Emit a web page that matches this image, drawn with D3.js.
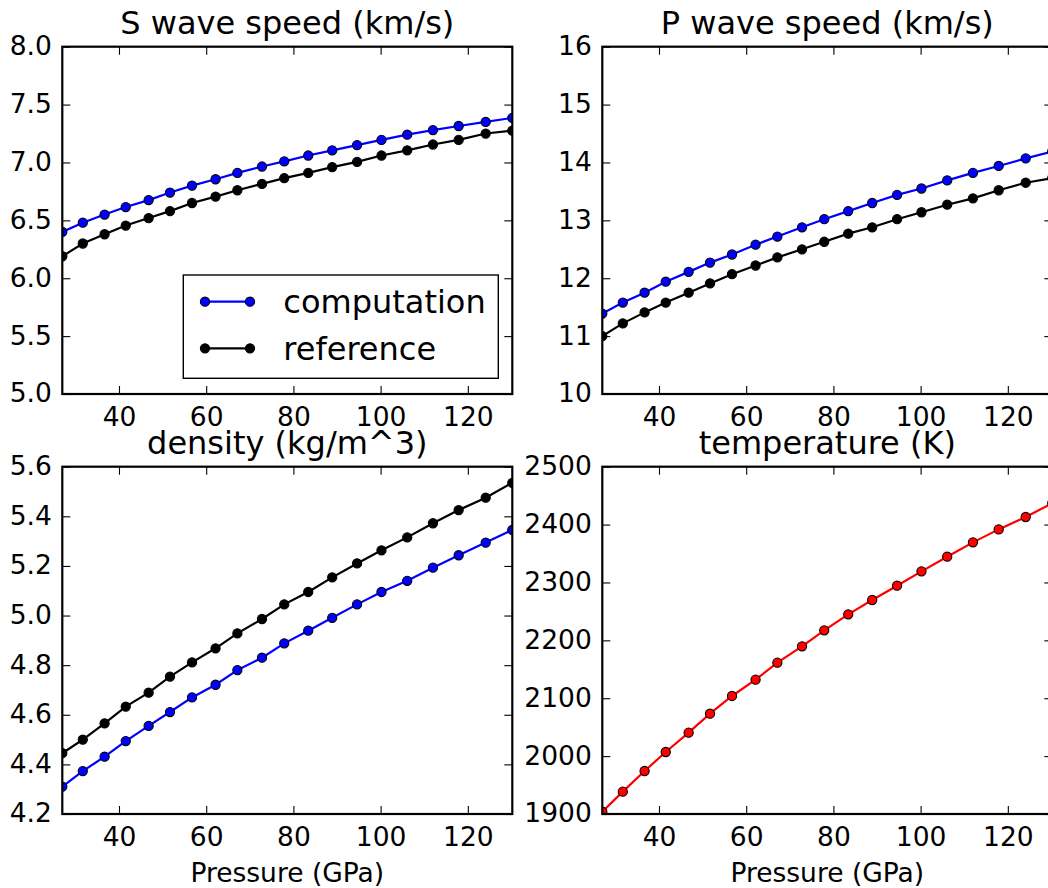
<!DOCTYPE html>
<html>
<head>
<meta charset="utf-8">
<script src="https://cdn.jsdelivr.net/npm/d3@7"></script>
<style>
  html, body { margin: 0; padding: 0; background: #fff; overflow: hidden; }
  svg { display: block; font-family: "DejaVu Sans", sans-serif; }
</style>
</head>
<body>
<svg id="chart" width="1048" height="888"></svg>
<script>
// Pressure samples along the profile (GPa)
const pressure = [27.0, 31.7, 36.7, 41.55, 46.8, 51.7, 56.75, 62.15, 67.15, 72.8,
                  77.9, 83.4, 88.9, 94.6, 100.2, 106.1, 112.0, 117.9, 124.1, 130.2];

// S wave speed (km/s)
const vsComputation = [6.40, 6.48, 6.55, 6.615, 6.675, 6.74, 6.80, 6.855, 6.91, 6.965,
                       7.01, 7.06, 7.105, 7.15, 7.195, 7.24, 7.28, 7.315, 7.35, 7.385];
const vsReference   = [6.19, 6.30, 6.38, 6.455, 6.52, 6.58, 6.65, 6.705, 6.76, 6.815,
                       6.865, 6.91, 6.96, 7.005, 7.06, 7.105, 7.155, 7.195, 7.25, 7.275];

// P wave speed (km/s)
const vpComputation = [11.39, 11.58, 11.75, 11.94, 12.11, 12.27, 12.41, 12.58, 12.72, 12.88,
                       13.02, 13.16, 13.30, 13.44, 13.55, 13.69, 13.82, 13.94, 14.07, 14.19];
const vpReference   = [11.00, 11.22, 11.41, 11.58, 11.75, 11.91, 12.07, 12.22, 12.36, 12.50,
                       12.63, 12.77, 12.88, 13.02, 13.14, 13.27, 13.38, 13.52, 13.65, 13.73];

// Density
const rhoComputation = [4.31, 4.373, 4.431, 4.494, 4.555, 4.611, 4.67, 4.721, 4.78, 4.83,
                        4.888, 4.939, 4.991, 5.045, 5.095, 5.14, 5.193, 5.243, 5.294, 5.345];
const rhoReference   = [4.445, 4.50, 4.565, 4.633, 4.689, 4.754, 4.811, 4.868, 4.928, 4.986,
                        5.045, 5.095, 5.154, 5.21, 5.263, 5.315, 5.372, 5.425, 5.475, 5.535];

// Temperature (K)
const temperature = [1904, 1938.6, 1974.3, 2007.1, 2040.5, 2073.3, 2103.9, 2132.1, 2161.5, 2189.7,
                     2217.3, 2244.9, 2269.7, 2294.4, 2319.2, 2344.5, 2369.3, 2391.7, 2413.1, 2437];

// Tick values
const xTicks   = [40, 60, 80, 100, 120];
const vsTicks  = [5.0, 5.5, 6.0, 6.5, 7.0, 7.5, 8.0];
const vpTicks  = [10, 11, 12, 13, 14, 15, 16];
const rhoTicks = [4.2, 4.4, 4.6, 4.8, 5.0, 5.2, 5.4, 5.6];
const tTicks   = [1900, 2000, 2100, 2200, 2300, 2400, 2500];

const titles = ["S wave speed (km/s)", "P wave speed (km/s)", "density (kg/m^3)", "temperature (K)"];
const xLabel = "Pressure (GPa)";
const legendLabels = ["computation", "reference"];

// Panel layout
const W = 450, H = 347.3;
const panels = [
  { left: 62.3,  top: 46.7,  title: titles[0], ticks: vsTicks,  fmt: d3.format(".1f"),
    series: [{ v: vsComputation, c: "#0000ff" }, { v: vsReference, c: "#000000" }], legend: true },
  { left: 602.3, top: 46.7,  title: titles[1], ticks: vpTicks,  fmt: d3.format("d"),
    series: [{ v: vpComputation, c: "#0000ff" }, { v: vpReference, c: "#000000" }] },
  { left: 62.3,  top: 466.7, title: titles[2], ticks: rhoTicks, fmt: d3.format(".1f"),
    series: [{ v: rhoComputation, c: "#0000ff" }, { v: rhoReference, c: "#000000" }], xlabel: true },
  { left: 602.3, top: 466.7, title: titles[3], ticks: tTicks,   fmt: d3.format("d"),
    series: [{ v: temperature, c: "#ff0000" }], xlabel: true }
];

const svg = d3.select("#chart");
const TICK = 8;

panels.forEach((p, i) => {
  const x = d3.scaleLinear().domain([d3.min(pressure), d3.max(pressure)]).range([0, W]);
  const y = d3.scaleLinear().domain([p.ticks[0], p.ticks[p.ticks.length - 1]]).range([H, 0]);
  const g = svg.append("g").attr("transform", `translate(${p.left},${p.top})`);

  const clipId = "clip" + i;
  g.append("clipPath").attr("id", clipId)
    .append("rect").attr("width", W).attr("height", H);

  const plot = g.append("g").attr("clip-path", `url(#${clipId})`);
  const line = d3.line().x((d, k) => x(pressure[k])).y(d => y(d));

  p.series.forEach(s => {
    plot.append("path").datum(s.v)
      .attr("d", line).attr("fill", "none")
      .attr("stroke", s.c).attr("stroke-width", 2.2);
    plot.selectAll(null).data(s.v).enter().append("circle")
      .attr("cx", (d, k) => x(pressure[k])).attr("cy", d => y(d))
      .attr("r", 4.6).attr("fill", s.c)
      .attr("stroke", "#000").attr("stroke-width", 1.1);
  });

  // Axes with inward ticks on all four sides
  const styleAxis = sel => {
    sel.select(".domain").remove();
    sel.selectAll(".tick line").attr("stroke", "#000").attr("stroke-width", 1.1);
    sel.selectAll(".tick text").attr("fill", "#000")
      .style("font-family", "'DejaVu Sans', sans-serif").style("font-size", "26.5px");
  };
  g.append("g").attr("transform", `translate(0,${H})`)
    .call(d3.axisBottom(x).tickValues(xTicks).tickSizeInner(-TICK).tickSizeOuter(0).tickPadding(13))
    .call(styleAxis);
  g.append("g")
    .call(d3.axisTop(x).tickValues(xTicks).tickSizeInner(-TICK).tickSizeOuter(0).tickFormat(""))
    .call(styleAxis);
  g.append("g")
    .call(d3.axisLeft(y).tickValues(p.ticks).tickFormat(p.fmt).tickSizeInner(-TICK).tickSizeOuter(0).tickPadding(10.5))
    .call(styleAxis)
    .selectAll(".tick text").attr("dy", "0.3em");
  g.append("g").attr("transform", `translate(${W},0)`)
    .call(d3.axisRight(y).tickValues(p.ticks).tickSizeInner(-TICK).tickSizeOuter(0).tickFormat(""))
    .call(styleAxis);

  // Frame
  g.append("rect").attr("width", W).attr("height", H)
    .attr("fill", "none").attr("stroke", "#000").attr("stroke-width", 2.2);

  // Title
  g.append("text").attr("x", W / 2).attr("y", -13)
    .attr("text-anchor", "middle").attr("fill", "#000")
    .style("font-size", "32px").text(p.title);

  if (p.xlabel) {
    g.append("text").attr("x", W / 2).attr("y", H + 68)
      .attr("text-anchor", "middle").attr("fill", "#000")
      .style("font-size", "26.5px").text(xLabel);
  }

  if (p.legend) {
    const lg = g.append("g").attr("transform", "translate(121,228.3)");
    lg.append("rect").attr("width", 315).attr("height", 103.3)
      .attr("fill", "#fff").attr("stroke", "#000").attr("stroke-width", 1.4);
    p.series.forEach((s, k) => {
      const yy = 26.7 + k * 46.6;
      lg.append("line").attr("x1", 21.7).attr("x2", 66.7).attr("y1", yy).attr("y2", yy)
        .attr("stroke", s.c).attr("stroke-width", 2.2);
      [21.7, 66.7].forEach(cx => {
        lg.append("circle").attr("cx", cx).attr("cy", yy).attr("r", 4.6)
          .attr("fill", s.c).attr("stroke", "#000").attr("stroke-width", 1.1);
      });
      lg.append("text").attr("x", 100).attr("y", yy).attr("dy", "0.35em")
        .attr("fill", "#000").style("font-size", "32px").text(legendLabels[k]);
    });
  }
});
</script>
</body>
</html>
